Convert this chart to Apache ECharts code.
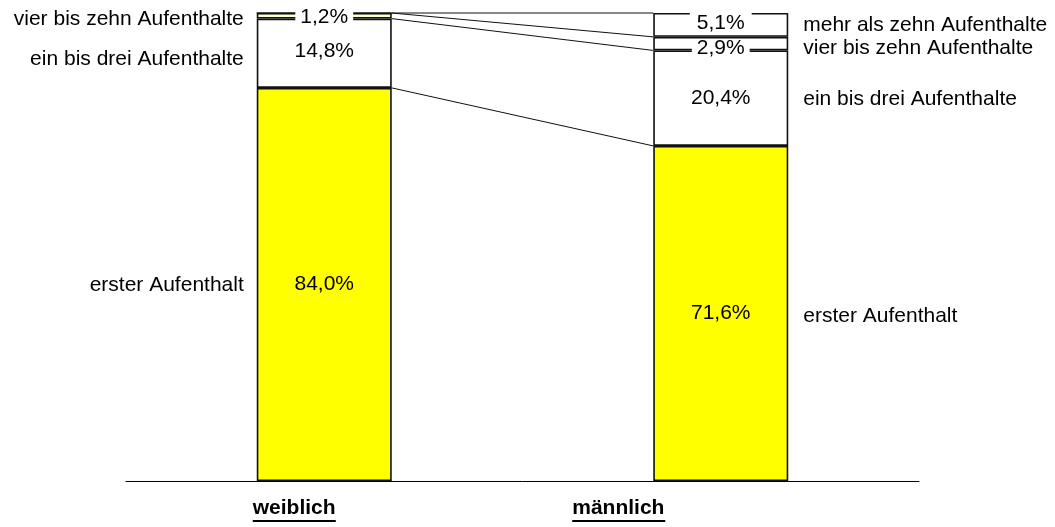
<!DOCTYPE html>
<html>
<head>
<meta charset="utf-8">
<script src="https://cdn.jsdelivr.net/npm/echarts@6/dist/echarts.min.js"></script>
<style>
  html, body { margin: 0; padding: 0; background: #fff; }
  #chart { width: 1055px; height: 527px; }
</style>
</head>
<body>
<div id="chart"></div>
<script>
// data (percent of stays)
const categories = ['weiblich', 'männlich'];
const seriesNames = ['erster Aufenthalt', 'ein bis drei Aufenthalte', 'vier bis zehn Aufenthalte', 'mehr als zehn Aufenthalte'];
const erster = [84.0, 71.6];
const einBisDrei = [14.8, 20.4];
const vierBisZehn = [1.2, 2.9];
const mehrAlsZehn = [0, 5.1];

const valueLists = [erster, einBisDrei, vierBisZehn, mehrAlsZehn];
const fills = [['#ffff00', '#ffff00'], ['#ffffff', '#ffffff'], ['#ffffcc', '#ffffff'], ['#ffffff', '#ffffff']];
const FONT = '"Liberation Sans", Arial, sans-serif';
const BAR_W = 135;

const fmt = v => v.toFixed(1).replace('.', ',') + '%';

// label tweaks for the small segments (white box over the border lines)
const innerLabel = [
    [{}, {}],
    [{ offset: [0, -2] }, {}],
    [{ backgroundColor: '#fff', padding: [0, 5], lineHeight: 16, offset: [0, 1] },
     { backgroundColor: '#fff', padding: [0, 5], lineHeight: 16, offset: [0, 5] }],
    [{}, { backgroundColor: '#fff', padding: [7, 7, 0, 7], lineHeight: 16, offset: [0, -2] }]
];
// vertical nudges of the names beside the bars
const sideOffset = [[1, 3], [6, 1], [3, 5], [0, 0]];

const chart = echarts.init(document.getElementById('chart'));

// measure category text width for the underline
const ctx = document.createElement('canvas').getContext('2d');
ctx.font = 'bold 21px ' + FONT;
const catW = categories.map(c => Math.ceil(ctx.measureText(c).width));
const catShift = [60, 204];

const rich = {};
categories.forEach((c, i) => {
    rich['t' + i] = { width: catW[i], fontSize: 21, fontWeight: 'bold', fontFamily: FONT, color: '#000', lineHeight: 24, align: 'left' };
    rich['s' + i] = { width: catShift[i], height: 2, lineHeight: 2 };
    rich['u' + i] = { width: catW[i], height: 2, lineHeight: 2, backgroundColor: '#000' };
});

const series = [];

valueLists.forEach((vals, s) => {
    series.push({
        name: seriesNames[s],
        type: 'bar',
        stack: 'a',
        barWidth: BAR_W,
        barGap: '-100%',
        silent: true,
        data: vals.map((v, i) => ({
            value: v,
            itemStyle: { color: fills[s][i] },
            label: Object.assign({ show: v > 0 }, innerLabel[s][i])
        })),
        itemStyle: { borderColor: '#111', borderWidth: 1.6 },
        label: {
            position: 'inside',
            formatter: p => fmt(p.value),
            fontSize: 21,
            fontFamily: FONT,
            color: '#000'
        },
        z: 2
    });
});

// invisible twin bars carrying the names beside each segment
valueLists.forEach((vals, s) => {
    series.push({
        name: seriesNames[s] + ' (Name)',
        type: 'bar',
        stack: 'names',
        barWidth: BAR_W,
        barGap: '-100%',
        silent: true,
        itemStyle: { color: 'rgba(0,0,0,0)' },
        data: vals.map((v, i) => ({
            value: v,
            label: {
                show: v > 0,
                position: i === 0 ? 'left' : 'right',
                distance: i === 0 ? 13 : 15,
                offset: [0, sideOffset[s][i]]
            }
        })),
        label: {
            formatter: seriesNames[s],
            fontSize: 21,
            fontFamily: FONT,
            color: '#000'
        },
        z: 1
    });
});

// connector lines between the tops of matching segments
const connectors = valueLists.map((vals, s) => {
    const cum = categories.map((c, i) => valueLists.slice(0, s + 1).reduce((a, l) => a + l[i], 0));
    return [0, cum[0], cum[1]];
});

series.push({
    type: 'custom',
    silent: true,
    encode: { x: 0, y: [1, 2] },
    data: connectors,
    renderItem: (params, api) => {
        const p1 = api.coord([0, api.value(1)]);
        const p2 = api.coord([1, api.value(2)]);
        return {
            type: 'line',
            shape: { x1: p1[0] + BAR_W / 2, y1: p1[1], x2: p2[0] - BAR_W / 2, y2: p2[1] },
            style: { stroke: '#111', lineWidth: 1 }
        };
    },
    z: 3
});

chart.setOption({
    animation: false,
    backgroundColor: '#fff',
    grid: { left: 126, right: 136, top: 13, bottom: 43 },
    xAxis: {
        type: 'category',
        data: categories,
        axisTick: { show: false },
        axisLine: { lineStyle: { color: '#000', width: 1 } },
        axisLabel: {
            interval: 0,
            margin: 15,
            formatter: (v, i) => `{t${i}|${v}}{s${i}|}\n{u${i}|}{s${i}|}`,
            rich: rich
        }
    },
    yAxis: {
        type: 'value',
        min: 0,
        max: 100,
        show: false
    },
    series: series
});
</script>
</body>
</html>
